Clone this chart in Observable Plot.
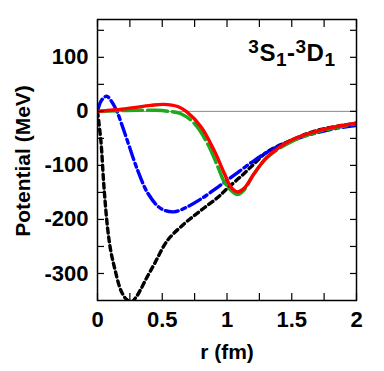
<!DOCTYPE html>
<html>
<head>
<meta charset="utf-8">
<script src="https://cdn.jsdelivr.net/npm/d3@7"></script>
<script src="https://cdn.jsdelivr.net/npm/@observablehq/plot@0.6"></script>
<style>
  html, body { margin: 0; padding: 0; background: #fff; }
  svg { font-family: "Liberation Sans", Arial, sans-serif; }
</style>
</head>
<body>
<div id="chart"></div>
<script>
// r (fm) sample points and potentials (MeV)
const rBlack = [0, 0.026, 0.05, 0.077, 0.10, 0.13, 0.18, 0.22, 0.26, 0.30, 0.33, 0.38, 0.44, 0.54, 0.67, 0.80, 0.93, 1.0, 1.1, 1.21, 1.31, 1.49, 1.7, 2.0];
const vBlack = [0, -54, -140, -214, -255, -288, -331, -347, -353, -343, -331, -308, -282, -239, -208, -183, -159, -143, -122, -97, -75, -54, -35, -22];

const rBlue = [0, 0.03, 0.07, 0.11, 0.15, 0.19, 0.23, 0.31, 0.39, 0.49, 0.59, 0.69, 0.8, 0.93, 1.05, 1.21, 1.36, 1.57, 1.83, 2.0];
const vBlue = [0, 20, 28, 18, 0, -26, -54, -109, -152, -180, -186, -177, -162, -140, -119, -91, -69, -48, -32, -26];

const rGreen = [0, 0.15, 0.3, 0.45, 0.55, 0.64, 0.75, 0.85, 0.93, 0.98, 1.03, 1.08, 1.13, 1.21, 1.31, 1.49, 1.7, 2.0];
const vGreen = [0, 1, 2, 2, 0, -4, -23, -60, -103, -131, -146, -154, -146, -115, -85, -57, -38, -23];

const rRed = [0, 0.05, 0.15, 0.28, 0.41, 0.51, 0.62, 0.69, 0.8, 0.9, 0.98, 1.03, 1.08, 1.13, 1.21, 1.31, 1.49, 1.7, 2.0];
const vRed = [0, 1, 3, 7, 11, 13, 9, -1, -29, -72, -115, -140, -149, -143, -115, -85, -54, -36, -22];

const xTicks = [0, 0.5, 1, 1.5, 2];
const xMinor = [0, 0.25, 0.5, 0.75, 1, 1.25, 1.5, 1.75, 2];
const yTicks = [100, 0, -100, -200, -300];
const yMinor = [150, 100, 50, 0, -50, -100, -150, -200, -250, -300];

const mk = (rs, vs) => rs.map((r, i) => ({r, v: vs[i]}));
const black = mk(rBlack, vBlack), blue = mk(rBlue, vBlue), green = mk(rGreen, vGreen), red = mk(rRed, vRed);

const W = 384, H = 371;
const fontTick = {fontSize: 22, fontWeight: "bold", fill: "#000"};
const line = (data, opts) => Plot.line(data, {x: "r", y: "v", curve: "catmull-rom", strokeWidth: 3.4, clip: true, ...opts});

const chart = Plot.plot({
  width: W, height: H,
  marginLeft: 97, marginRight: 28, marginTop: 19, marginBottom: 71,
  style: {fontFamily: "Liberation Sans, Arial, sans-serif", background: "#fff"},
  x: {domain: [0, 2]},
  y: {domain: [-350, 170]},
  marks: [
    Plot.ruleY([0], {stroke: "#888", strokeWidth: 1}),
    line(black, {stroke: "#000", strokeDasharray: "5,4"}),
    line(blue, {stroke: "#0000ff", strokeDasharray: "13,4,4,4"}),
    line(green, {stroke: "#1aaa1a", strokeDasharray: "20,5"}),
    line(red, {stroke: "#ff0000"}),
    Plot.frame({stroke: "#000", strokeWidth: 1.5}),
    // inward ticks on all sides
    Plot.axisX(xMinor, {anchor: "bottom", tickSize: 7, dy: -7, text: null, label: null, strokeWidth: 1.2}),
    Plot.axisX(xMinor, {anchor: "top", tickSize: 7, dy: 7, text: null, label: null, strokeWidth: 1.2}),
    Plot.axisY(yMinor, {anchor: "left", tickSize: 7, dx: 7, text: null, label: null, strokeWidth: 1.2}),
    Plot.axisY(yMinor, {anchor: "right", tickSize: 7, dx: -7, text: null, label: null, strokeWidth: 1.2}),
    // tick labels
    Plot.axisX(xTicks, {anchor: "bottom", tickSize: 0, tickPadding: 11, tickFormat: d => String(d), label: null, ...fontTick}),
    Plot.axisY(yTicks, {anchor: "left", tickSize: 0, tickPadding: 9, tickFormat: d => String(d), label: null, ...fontTick}),
    // axis titles
    Plot.text(["r (fm)"], {frameAnchor: "bottom", dy: 52, textAnchor: "middle", lineAnchor: "middle", fontSize: 21, fontWeight: "bold", fill: "#000"}),
    Plot.text(["Potential (MeV)"], {frameAnchor: "left", dx: -74, dy: 1, rotate: -90, textAnchor: "middle", lineAnchor: "middle", fontSize: 21, fontWeight: "bold", fill: "#000"}),
    // panel label
    Plot.text(["3S1-3D1"], {frameAnchor: "top-right", dx: -21, dy: 41, textAnchor: "end", lineAnchor: "bottom", fontSize: 24, fontWeight: "bold", fill: "#000", className: "panel-label"})
  ]
});

document.getElementById("chart").appendChild(chart);

// format the panel label with superscripts and subscripts
const t = chart.querySelector("g.panel-label text") || chart.querySelector(".panel-label text");
if (t) {
  const parts = [["3", -8, 19], ["S", 8, 24], ["1", 5, 19], ["-", -5, 24], ["3", -8, 19], ["D", 8, 24], ["1", 5, 19]];
  while (t.firstChild) t.removeChild(t.firstChild);
  t.setAttribute("letter-spacing", "0.5");
  for (const [s, dy, fs] of parts) {
    const ts = document.createElementNS("http://www.w3.org/2000/svg", "tspan");
    ts.setAttribute("dy", dy);
    ts.style.fontSize = fs + "px";
    ts.textContent = s;
    t.appendChild(ts);
  }
}
</script>
</body>
</html>
